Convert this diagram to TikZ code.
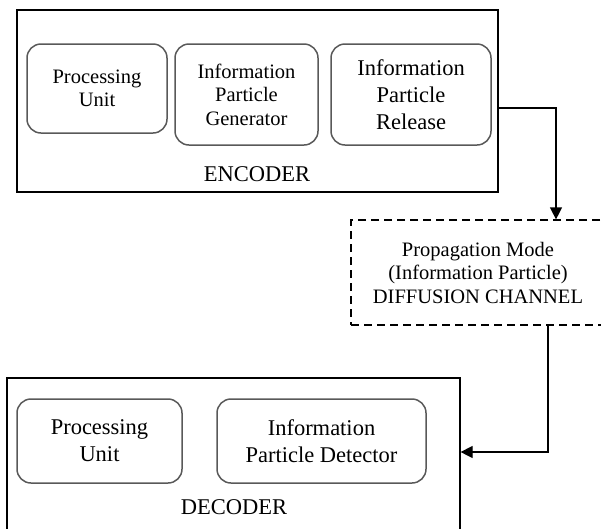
\documentclass[tikz,border=0pt]{standalone}
\usepackage{fontspec}
\setmainfont{Liberation Serif}
\usepackage{tikz}
\usetikzlibrary{shapes, arrows.meta, calc}
\tikzstyle{->}    = [draw, line width=1.2pt, -{Triangle[length=12pt, width=12pt]}]
\tikzstyle{box}   = [draw, line width=1.2pt, rectangle, inner sep=0pt]
\tikzstyle{unit}  = [draw=black!65, line width=1.5pt, rectangle, rounded corners=14pt, align=center, inner sep=0pt]
\tikzstyle{chan}  = [draw, line width=1.2pt, dash pattern=on 8pt off 5pt, rectangle, align=center, inner sep=0pt]
\tikzstyle{big}   = [font=\rmfamily\fontsize{22.5}{27}\selectfont]
\tikzstyle{small} = [font=\rmfamily\fontsize{20.5}{23.5}\selectfont]

\begin{document}
\begin{tikzpicture}[x=1pt, y=-1pt]

\clip (0,0) rectangle (601,528);

% nodes
\node [box, minimum width=481, minimum height=182] at ( 257.5 , 101   ) (enc)    {};
\node [unit, small, minimum width=140, minimum height=89]  at (  97   ,  88.5 ) (encpu)  {Processing\\Unit};
\node [unit, small, minimum width=143, minimum height=101] at ( 246.5 ,  94.5 ) (encgen) {Information\\Particle\\Generator};
\node [unit, big, minimum width=160, minimum height=101]   at ( 411   ,  94.5 ) (encrel) {Information\\Particle\\Release};
\node [big]                                                 at ( 257   , 174   ) (enclbl) {ENCODER};

\node [chan, small, minimum width=254, minimum height=105] at ( 478   , 272.5 ) (chan)   {Propagation Mode\\(Information Particle)\\DIFFUSION CHANNEL};

\node [box, minimum width=453, minimum height=162] at ( 233.5 , 459   ) (dec)    {};
\node [unit, big, minimum width=165, minimum height=84]   at (  99.5 , 441   ) (decpu)  {Processing\\Unit};
\node [unit, big, minimum width=209, minimum height=84]   at ( 321.5 , 441   ) (decdet) {Information\\Particle Detector};
\node [big]                                                at ( 234   , 507   ) (declbl) {DECODER};

% edges
\path [->] ($(enc.east)+(0,7)$)    -| ($(chan.north)+(78,0)$);
\path [->] ($(chan.south)+(70,0)$) |- ($(dec.east)+(0,-7)$);

\end{tikzpicture}
\end{document}
